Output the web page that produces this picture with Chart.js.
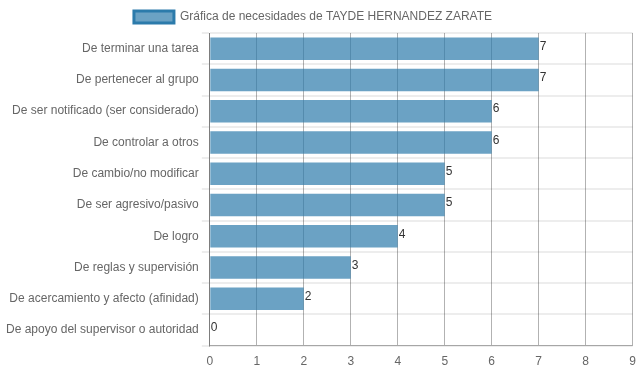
<!DOCTYPE html>
<html>
<head>
<meta charset="utf-8">
<script src="https://cdn.jsdelivr.net/npm/chart.js@4"></script>
<style>
  html, body { margin: 0; padding: 0; background: #fff; }
  #wrap { width: 639px; height: 372px; }
</style>
</head>
<body>
<div id="wrap"><canvas id="needs"></canvas></div>
<script>
var categories = [
    'De terminar una tarea',
    'De pertenecer al grupo',
    'De ser notificado (ser considerado)',
    'De controlar a otros',
    'De cambio/no modificar',
    'De ser agresivo/pasivo',
    'De logro',
    'De reglas y supervisión',
    'De acercamiento y afecto (afinidad)',
    'De apoyo del supervisor o autoridad'
];
var values = [7, 7, 6, 6, 5, 5, 4, 3, 2, 0];
var seriesName = 'Gráfica de necesidades de TAYDE HERNANDEZ ZARATE';
var xTicks = [0, 1, 2, 3, 4, 5, 6, 7, 8, 9];

Chart.defaults.font.family = '"Liberation Sans", Arial, sans-serif';
Chart.defaults.font.size = 12;
Chart.defaults.color = '#666';

// numbers at the end of each bar
var valueLabels = {
    id: 'valueLabels',
    afterDatasetsDraw: function (chart) {
        var ctx = chart.ctx;
        ctx.save();
        ctx.font = '12px "Liberation Sans", Arial, sans-serif';
        ctx.fillStyle = '#333';
        ctx.textAlign = 'left';
        ctx.textBaseline = 'middle';
        chart.getDatasetMeta(0).data.forEach(function (bar, i) {
            ctx.fillText(values[i], bar.x + 1, bar.y - 2);
        });
        ctx.restore();
    }
};

// legend sits a bit left of centre in the original
var legendNudge = {
    id: 'legendNudge',
    afterLayout: function (chart) {
        if (chart.legend) {
            chart.legend.left -= 8;
            chart.legend.right -= 8;
        }
    }
};

var ctx = document.getElementById('needs').getContext('2d');
new Chart(ctx, {
    type: 'bar',
    data: {
        labels: categories,
        datasets: [{
            label: seriesName,
            data: values,
            backgroundColor: 'rgba(44, 123, 171, 0.7)',
            borderColor: 'rgb(44, 123, 171)',
            borderWidth: 0
        }]
    },
    options: {
        indexAxis: 'y',
        responsive: true,
        maintainAspectRatio: false,
        animation: false,
        layout: { padding: { right: 0, left: 3, top: 1 } },
        plugins: {
            legend: {
                labels: {
                    boxWidth: 40,
                    boxHeight: 12,
                    font: { size: 12 },
                    generateLabels: function (chart) {
                        var items = Chart.defaults.plugins.legend.labels.generateLabels(chart);
                        items.forEach(function (it) { it.lineWidth = 3; });
                        return items;
                    }
                }
            },
            tooltip: { enabled: false }
        },
        scales: {
            x: {
                min: 0,
                max: 9,
                afterBuildTicks: function (scale) {
                    scale.ticks = xTicks.map(function (v) { return { value: v }; });
                },
                ticks: { padding: 3 },
                grid: { color: 'rgba(0,0,0,0.3)', tickLength: 6, tickColor: 'rgba(0,0,0,0)' },
                border: { color: 'rgba(0,0,0,0.3)' }
            },
            y: {
                grid: { color: 'rgba(0,0,0,0.07)', lineWidth: 2 },
                border: { color: 'rgba(0,0,0,0.3)' }
            }
        }
    },
    plugins: [valueLabels, legendNudge]
});
</script>
</body>
</html>
